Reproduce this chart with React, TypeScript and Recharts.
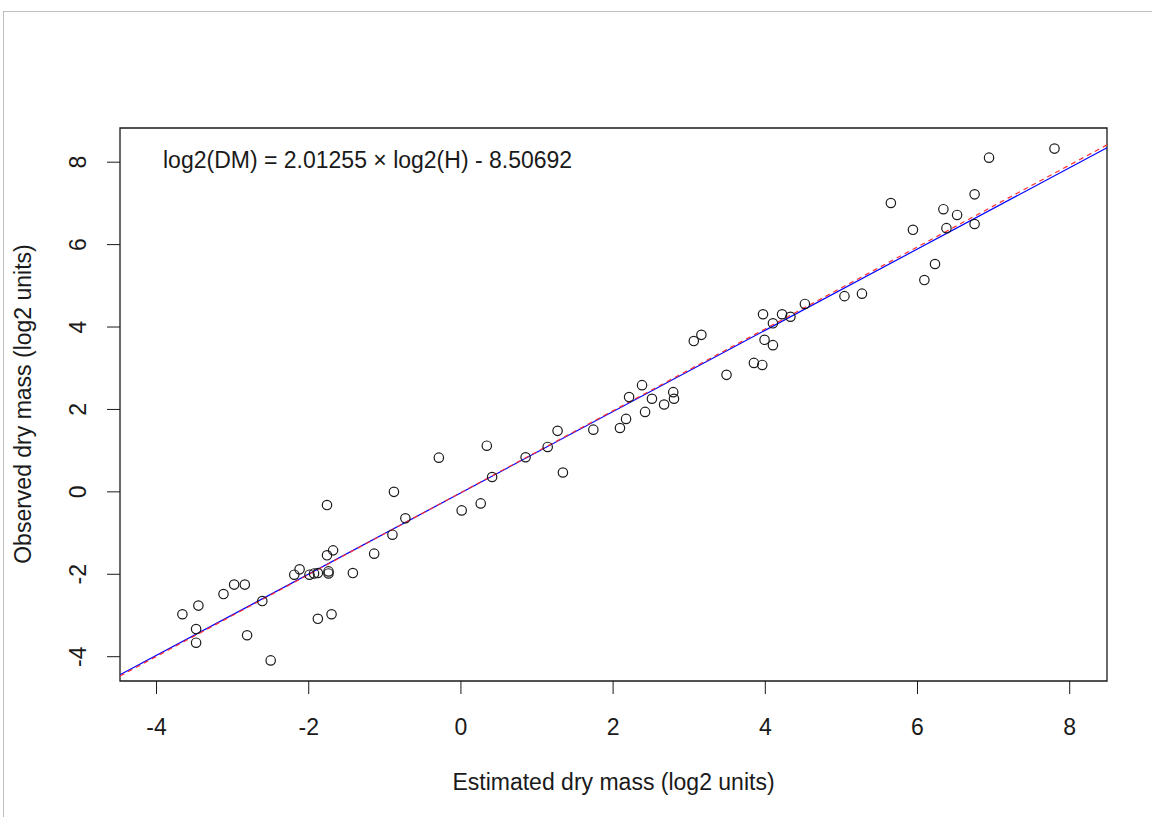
import {
  ReferenceArea,
  ReferenceLine,
  Scatter,
  ScatterChart,
  XAxis,
  YAxis,
} from 'recharts'

// estimated vs observed dry mass, log2 units
const estimated = [
  -3.66, -3.45, -3.48, -3.48, -3.12, -2.98, -2.84, -2.81, -2.61, -2.5,
  -2.19, -2.12, -1.99, -1.93, -1.88, -1.76, -1.76, -1.68, -1.74, -1.74,
  -1.88, -1.7, -1.42, -1.14, -0.9, -0.88, -0.73, -0.29, 0.01, 0.26,
  0.34, 0.41, 0.85, 1.14, 1.27, 1.34, 1.74, 2.09, 2.17, 2.21,
  2.38, 2.42, 2.51, 2.67, 2.79, 2.8, 3.06, 3.16, 3.49, 3.85,
  3.96, 3.97, 3.99, 4.1, 4.1, 4.22, 4.33, 4.52, 5.04, 5.27,
  5.65, 5.94, 6.09, 6.23, 6.34, 6.38, 6.52, 6.75, 6.75, 6.94,
  7.8,
]
const observed = [
  -2.97, -2.76, -3.33, -3.66, -2.48, -2.25, -2.25, -3.48, -2.65, -4.09,
  -2.01, -1.88, -2.01, -1.98, -1.97, -0.32, -1.54, -1.42, -1.93, -1.98,
  -3.08, -2.97, -1.97, -1.5, -1.04, 0.0, -0.64, 0.83, -0.45, -0.28,
  1.12, 0.36, 0.84, 1.09, 1.48, 0.47, 1.51, 1.55, 1.77, 2.3,
  2.59, 1.94, 2.26, 2.12, 2.42, 2.26, 3.66, 3.81, 2.84, 3.13,
  3.08, 4.31, 3.69, 3.56, 4.09, 4.31, 4.25, 4.56, 4.75, 4.81,
  7.01, 6.36, 5.14, 5.53, 6.86, 6.4, 6.72, 7.22, 6.5, 8.11,
  8.33,
]

const xTicks = [-4, -2, 0, 2, 4, 6, 8]
const yTicks = [-4, -2, 0, 2, 4, 6, 8]
const xDomain = [-4.48, 8.49]
const yDomain = [-4.59, 8.83]

// fitted line (blue) and reference line (red dashed), end points
const fitX = [-4.48, 8.49]
const fitY = [-4.44, 8.35]
const refX = [-4.48, 8.49]
const refY = [-4.47, 8.42]

const equation = 'log2(DM) = 2.01255 × log2(H) - 8.50692'
const xTitle = 'Estimated dry mass (log2 units)'
const yTitle = 'Observed dry mass (log2 units)'

const font = '"Liberation Sans", Arial, sans-serif'
const ink = '#1a1a1a'

const points = estimated.map((x, i) => ({ x, y: observed[i] }))

function OpenCircle(props: any) {
  return <circle cx={props.cx} cy={props.cy} r={4.7} fill="none" stroke={ink} strokeWidth={1.2} />
}

function XTick({ x, y, payload }: any) {
  return (
    <text x={x} y={y + 31} textAnchor="middle" dominantBaseline="central" fontSize={23} fontFamily={font} fill={ink}>
      {payload.value}
    </text>
  )
}

function YTick({ x, y, payload }: any) {
  const tx = x - 27
  return (
    <text
      x={tx}
      y={y}
      transform={`rotate(-90 ${tx} ${y})`}
      textAnchor="middle"
      dominantBaseline="central"
      fontSize={23}
      fontFamily={font}
      fill={ink}
    >
      {payload.value}
    </text>
  )
}

export default function App() {
  return (
    <div style={{ position: 'absolute', left: 0, top: 0, width: 1152, height: 817, background: '#fff', overflow: 'hidden' }}>
      {/* light frame of the original screenshot */}
      <div
        style={{
          position: 'absolute',
          left: 3,
          top: 11,
          width: 1160,
          height: 820,
          borderLeft: '1px solid #bdbdbd',
          borderTop: '1px solid #bdbdbd',
        }}
      />
      <ScatterChart width={1152} height={817} margin={{ top: 128, right: 45, bottom: 36, left: 20 }}>
        <XAxis
          type="number"
          dataKey="x"
          domain={xDomain}
          ticks={xTicks}
          allowDataOverflow
          axisLine={false}
          tickSize={13}
          tickLine={{ stroke: ink }}
          tick={<XTick />}
          height={100}
        />
        <YAxis
          type="number"
          dataKey="y"
          domain={yDomain}
          ticks={yTicks}
          allowDataOverflow
          axisLine={false}
          tickSize={13}
          tickLine={{ stroke: ink }}
          tick={<YTick />}
          width={100}
        />
        <ReferenceArea
          x1={xDomain[0]}
          x2={xDomain[1]}
          y1={yDomain[0]}
          y2={yDomain[1]}
          fill="none"
          fillOpacity={0}
          stroke={ink}
          strokeWidth={1.3}
          ifOverflow="visible"
        />
        <ReferenceLine
          segment={[
            { x: fitX[0], y: fitY[0] },
            { x: fitX[1], y: fitY[1] },
          ]}
          stroke="#0000ff"
          strokeWidth={1.2}
          ifOverflow="visible"
        />
        <ReferenceLine
          segment={[
            { x: refX[0], y: refY[0] },
            { x: refX[1], y: refY[1] },
          ]}
          stroke="#ff3030"
          strokeWidth={1.2}
          strokeDasharray="5 4"
          ifOverflow="visible"
        />
        <Scatter data={points} shape={<OpenCircle />} isAnimationActive={false} />
      </ScatterChart>

      <div style={{ position: 'absolute', left: 163, top: 146, fontSize: 23, fontFamily: font, color: ink, whiteSpace: 'nowrap', lineHeight: '28px' }}>
        {equation}
      </div>
      <div
        style={{
          position: 'absolute',
          left: 0,
          width: 1227,
          top: 768,
          textAlign: 'center',
          fontSize: 23,
          fontFamily: font,
          color: ink,
          whiteSpace: 'nowrap',
          lineHeight: '28px',
        }}
      >
        {xTitle}
      </div>
      <div
        style={{
          position: 'absolute',
          left: 23,
          top: 404,
          transform: 'translate(-50%, -50%) rotate(-90deg)',
          fontSize: 23,
          fontFamily: font,
          color: ink,
          whiteSpace: 'nowrap',
          lineHeight: '28px',
        }}
      >
        {yTitle}
      </div>
    </div>
  )
}
